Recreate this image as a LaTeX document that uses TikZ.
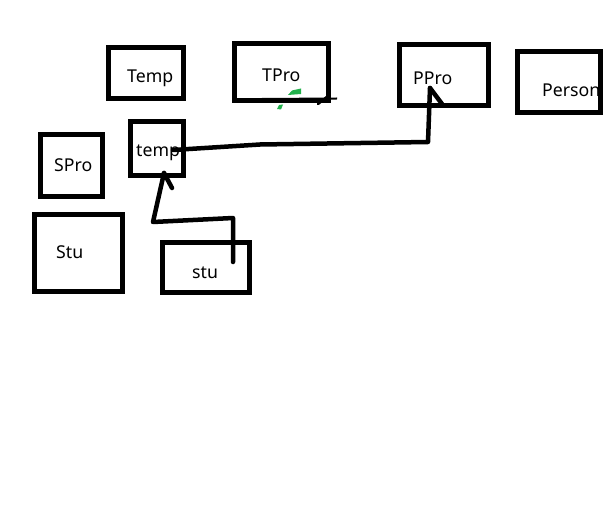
\documentclass[tikz,border=0pt]{standalone}
\usepackage{fontspec}
\setmainfont{Noto Sans}
\begin{document}
\begin{tikzpicture}[x=1pt,y=-1pt,
  box/.style={draw=black, line width=5pt, rectangle, inner sep=0pt, outer sep=0pt, minimum width=#1},
  lbl/.style={anchor=base west, inner sep=0pt, font=\fontsize{17.7}{20}\selectfont, text=black},
  conn/.style={draw=black, line width=4.5pt, line cap=round, line join=round},
  greenblot/.style={fill={rgb,255:red,34;green,177;blue,76}, draw=none}]
\useasboundingbox (0,0) rectangle (609,521);
% labels
\node[lbl] (lTemp) at (127,83) {Temp};
\node[lbl] (lTPro) at (262,82) {TPro};
\node[lbl] (lPPro) at (413,85) {PPro};
\node[lbl] (lPerson) at (542,97) {Person};
\node[lbl] (ltemp) at (136,157) {temp};
\node[lbl] (lSPro) at (54,172) {SPro};
\node[lbl] (lStu) at (56,258) {Stu};
\node[lbl] (lstu) at (192,278) {stu};
% boxes
\node[box=75pt, minimum height=51pt] (Temp) at (145.5,73.5) {};
\node[box=94pt, minimum height=57pt] (TPro) at (281,72.5) {};
\node[box=89pt, minimum height=61pt] (PPro) at (443.5,75.5) {};
\node[box=83pt, minimum height=61pt] (Person) at (558.5,82.5) {};
\node[box=53pt, minimum height=54pt] (temp) at (156.5,149) {};
\node[box=62pt, minimum height=61pt] (SPro) at (71,165.5) {};
\node[box=88pt, minimum height=77pt] (Stu) at (78,252.5) {};
\node[box=87pt, minimum height=50pt] (stu) at (205.5,267) {};
% connector stu -> temp
\coordinate (s0) at (233,262);
\coordinate (s1) at (233,218);
\coordinate (s2) at (153,222);
\coordinate (s3) at (164,173);
\coordinate (sb) at (172,188);
\draw[conn] (s0) -- (s1) -- (s2) -- (s3);
\draw[conn] (s3) -- (sb);
% connector temp -> PPro
\coordinate (t0) at (173,150);
\coordinate (t1) at (260,144.5);
\coordinate (t2) at (428,142);
\coordinate (t3) at (430,88);
\coordinate (tb) at (442,104);
\draw[conn] (t0) -- (t1) -- (t2) -- (t3);
\draw[conn] (t3) -- (tb);
% scribbles at TPro bottom
\draw[black, line width=2pt] (262,99) -- (337,98.5);
\draw[black, line width=2.5pt, line cap=round] (318,104) -- (328,96);
\fill[greenblot] (288,95) -- (292,90.5) -- (301,88.5) -- (301,94) -- cycle;
\fill[greenblot] (277,109) -- (279,105) -- (283,104.5) -- (281,109.5) -- cycle;
\end{tikzpicture}
\end{document}
